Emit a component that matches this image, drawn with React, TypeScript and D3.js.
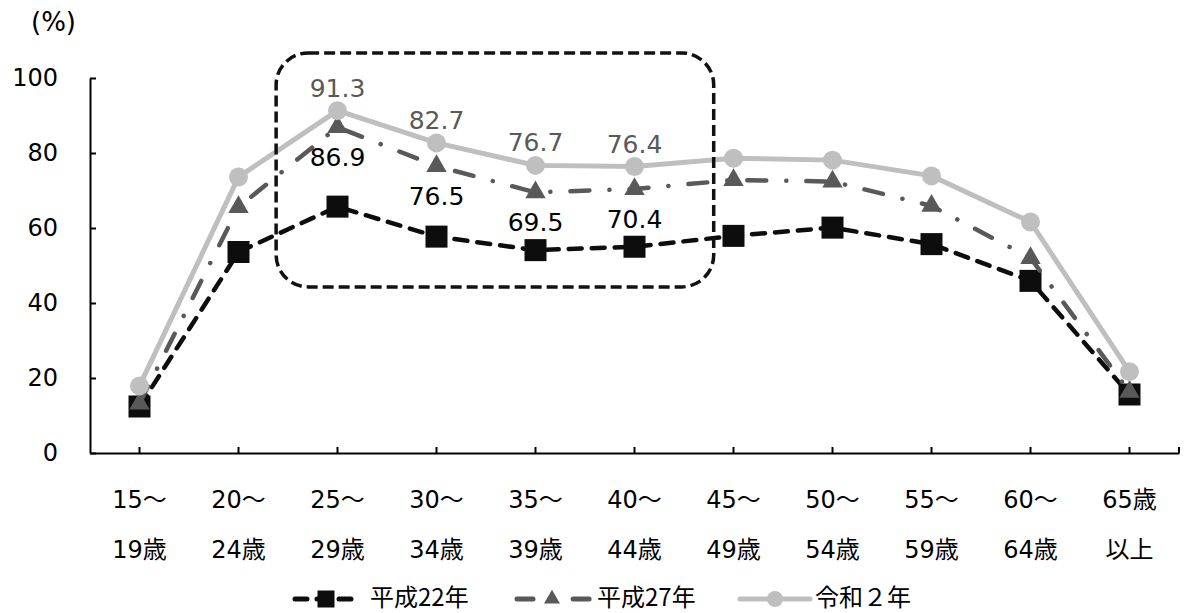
import React, { useEffect, useRef } from 'react';
import * as d3 from 'd3';

// age groups, two-line tick labels
const ageTop = ['15～', '20～', '25～', '30～', '35～', '40～', '45～', '50～', '55～', '60～', '65歳'];
const ageBottom = ['19歳', '24歳', '29歳', '34歳', '39歳', '44歳', '49歳', '54歳', '59歳', '64歳', '以上'];

const h22 = [12.4, 53.6, 65.7, 57.7, 54.1, 55.0, 57.9, 60.1, 55.7, 45.9, 15.6];
const h27 = [13.2, 65.6, 86.9, 76.5, 69.5, 70.4, 72.8, 72.4, 65.9, 52.0, 16.3];
const r2 = [17.9, 73.6, 91.3, 82.7, 76.7, 76.4, 78.6, 78.1, 73.9, 61.6, 21.7];

const seriesNames = ['平成22年', '平成27年', '令和２年'];
const yTicks = [0, 20, 40, 60, 80, 100];
const labeledIdx = [2, 3, 4, 5];

const WIDTH = 1184;
const HEIGHT = 613;
const NUM_FONT = '"DejaVu Sans", "Noto Sans CJK JP", sans-serif';
const JP_FONT = '"Noto Sans CJK JP", sans-serif';

export default function App() {
  const svgRef = useRef<SVGSVGElement>(null);

  useEffect(() => {
    if (!svgRef.current) return;
    const svg = d3.select(svgRef.current);
    svg.selectAll('*').remove();

    const x = d3.scaleBand<string>().domain(ageTop).range([90, 1179]).padding(0);
    const y = d3.scaleLinear().domain([0, 100]).range([453, 78]);
    const cx = (i: number) => x(ageTop[i])! + x.bandwidth() / 2;

    // Y axis
    const yAxis = svg.append('g')
      .attr('transform', `translate(${x.range()[0]},0)`)
      .call(d3.axisLeft(y).tickValues(yTicks).tickSize(-6).tickSizeOuter(0).tickPadding(32));
    yAxis.select('.domain').attr('stroke', '#000').attr('stroke-width', 2);
    yAxis.selectAll('.tick line').attr('stroke', '#000').attr('stroke-width', 2);
    yAxis.selectAll('.tick text')
      .style('font-family', NUM_FONT)
      .style('font-size', '24px')
      .attr('fill', '#000');

    // X axis
    const xAxis = svg.append('g')
      .attr('transform', `translate(0,${y(0)})`)
      .call(d3.axisBottom(x).tickSize(-6).tickSizeOuter(0).tickFormat(() => ''));
    xAxis.select('.domain').attr('stroke', '#000').attr('stroke-width', 2);
    xAxis.selectAll('.tick line').attr('stroke', '#000').attr('stroke-width', 2);
    xAxis.append('line')
      .attr('x1', x.range()[1]).attr('x2', x.range()[1])
      .attr('y1', 0).attr('y2', -6)
      .attr('stroke', '#000').attr('stroke-width', 2);

    ageTop.forEach((label, i) => {
      svg.append('text')
        .attr('x', cx(i)).attr('y', 508)
        .attr('text-anchor', 'middle')
        .style('font-family', NUM_FONT).style('font-size', '24px')
        .text(label);
      svg.append('text')
        .attr('x', cx(i)).attr('y', 558)
        .attr('text-anchor', 'middle')
        .style('font-family', NUM_FONT).style('font-size', '24px')
        .text(ageBottom[i]);
    });

    svg.append('text')
      .attr('x', 31).attr('y', 31)
      .style('font-family', NUM_FONT).style('font-size', '26px')
      .text('(%)');

    const line = d3.line<number>().x((_, i) => cx(i)).y(d => y(d));

    // 平成22年
    svg.append('path')
      .datum(h22)
      .attr('d', line)
      .attr('fill', 'none')
      .attr('stroke', '#0d0d0d')
      .attr('stroke-width', 4.5)
      .attr('stroke-dasharray', '13 10')
      .attr('stroke-linecap', 'round');
    h22.forEach((v, i) => {
      svg.append('rect')
        .attr('x', cx(i) - 11).attr('y', y(v) - 11)
        .attr('width', 22).attr('height', 22)
        .attr('fill', '#0d0d0d');
    });

    // 平成27年
    svg.append('path')
      .datum(h27)
      .attr('d', line)
      .attr('fill', 'none')
      .attr('stroke', '#595959')
      .attr('stroke-width', 4.5)
      .attr('stroke-dasharray', '19 20 0.1 20')
      .attr('stroke-linecap', 'round');
    const tri = d3.symbol().type(d3.symbolTriangle).size(180);
    h27.forEach((v, i) => {
      svg.append('path')
        .attr('d', tri()!)
        .attr('transform', `translate(${cx(i)},${y(v)})`)
        .attr('fill', '#595959');
    });

    // 令和２年
    svg.append('path')
      .datum(r2)
      .attr('d', line)
      .attr('fill', 'none')
      .attr('stroke', '#bfbfbf')
      .attr('stroke-width', 5);
    r2.forEach((v, i) => {
      svg.append('circle')
        .attr('cx', cx(i)).attr('cy', y(v)).attr('r', 9.5)
        .attr('fill', '#bfbfbf');
    });

    // highlight box around 25-44
    const bw = x.bandwidth();
    const bx0 = cx(labeledIdx[0]) - 0.62 * bw;
    const bx1 = cx(labeledIdx[labeledIdx.length - 1]) + 0.8 * bw;
    const by0 = y(106.7);
    const by1 = y(44.3);
    svg.append('rect')
      .attr('x', bx0).attr('y', by0)
      .attr('width', bx1 - bx0).attr('height', by1 - by0)
      .attr('rx', 32).attr('ry', 32)
      .attr('fill', 'none')
      .attr('stroke', '#111')
      .attr('stroke-width', 3.5)
      .attr('stroke-dasharray', '11 5');

    // data labels
    labeledIdx.forEach(i => {
      svg.append('text')
        .attr('x', cx(i)).attr('y', y(r2[i]) - 14)
        .attr('text-anchor', 'middle')
        .style('font-family', NUM_FONT).style('font-size', '25px')
        .attr('fill', '#595959')
        .text(r2[i].toFixed(1));
      svg.append('text')
        .attr('x', cx(i)).attr('y', y(h27[i]) + 39)
        .attr('text-anchor', 'middle')
        .style('font-family', NUM_FONT).style('font-size', '25px')
        .attr('fill', '#000')
        .text(h27[i].toFixed(1));
    });

    // Legend
    const legendY = 599;
    const itemX = [293, 515, 738];
    const symW = 66;
    const legend = svg.append('g');

    const l1 = legend.append('g').attr('transform', `translate(${itemX[0]},${legendY})`);
    l1.append('line').attr('x1', 2).attr('x2', symW).attr('y1', 0).attr('y2', 0)
      .attr('stroke', '#0d0d0d').attr('stroke-width', 5)
      .attr('stroke-dasharray', '12 10').attr('stroke-linecap', 'round');
    l1.append('rect').attr('x', symW / 2 - 8.5).attr('y', -8.5).attr('width', 17).attr('height', 17)
      .attr('fill', '#0d0d0d');

    const l2 = legend.append('g').attr('transform', `translate(${itemX[1]},${legendY})`);
    l2.append('line').attr('x1', 2).attr('x2', symW + 10).attr('y1', 0).attr('y2', 0)
      .attr('stroke', '#595959').attr('stroke-width', 5)
      .attr('stroke-dasharray', '16 20 0.1 20').attr('stroke-linecap', 'round');
    l2.append('path').attr('d', d3.symbol().type(d3.symbolTriangle).size(110)()!)
      .attr('transform', `translate(${symW / 2 + 4},0)`)
      .attr('fill', '#595959');

    const l3 = legend.append('g').attr('transform', `translate(${itemX[2]},${legendY})`);
    l3.append('line').attr('x1', 2).attr('x2', symW + 6).attr('y1', 0).attr('y2', 0)
      .attr('stroke', '#bfbfbf').attr('stroke-width', 5).attr('stroke-linecap', 'round');
    l3.append('circle').attr('cx', symW / 2 + 4).attr('cy', 0).attr('r', 8)
      .attr('fill', '#bfbfbf');

    const textOffsets = [77, 82, 77];
    seriesNames.forEach((name, i) => {
      legend.append('text')
        .attr('x', itemX[i] + textOffsets[i]).attr('y', 606)
        .style('font-family', JP_FONT).style('font-size', '24px')
        .text(name);
    });
  }, []);

  return (
    <svg
      ref={svgRef}
      width={WIDTH}
      height={HEIGHT}
      style={{ position: 'absolute', left: 0, top: 0, background: '#fff' }}
    />
  );
}
